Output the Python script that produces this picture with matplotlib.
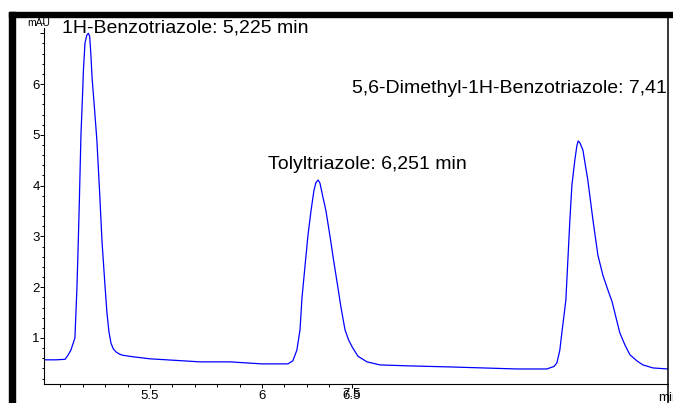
import matplotlib.pyplot as plt
from matplotlib.patches import Rectangle
from matplotlib.lines import Line2D
from matplotlib.ticker import MultipleLocator, FixedLocator

plt.rcParams['font.family'] = ['Liberation Sans', 'DejaVu Sans']

# trace (time in min, absorbance in mAU)
time_min = [5.027, 5.080, 5.121, 5.134, 5.147, 5.156, 5.165, 5.174, 5.179, 5.185,
            5.192, 5.199, 5.203, 5.210, 5.218, 5.225, 5.231, 5.236, 5.242, 5.251,
            5.263, 5.275, 5.286, 5.299, 5.308, 5.317, 5.326, 5.337, 5.350, 5.365,
            5.379, 5.424, 5.500, 5.612, 5.723, 5.857, 6.000, 6.116, 6.138, 6.156,
            6.170, 6.179, 6.192, 6.205, 6.219, 6.232, 6.241, 6.251, 6.259, 6.272,
            6.286, 6.304, 6.321, 6.339, 6.353, 6.371, 6.388, 6.406, 6.429, 6.469,
            6.527, 6.661, 6.839, 7.138, 7.272, 7.304, 7.317, 7.330, 7.339, 7.348,
            7.357, 7.366, 7.375, 7.384, 7.397, 7.406, 7.412, 7.420, 7.433, 7.446,
            7.455, 7.478, 7.500, 7.522, 7.545, 7.563, 7.581, 7.598, 7.621, 7.643,
            7.674, 7.701, 7.746, 7.813]
signal_mau = [0.57, 0.57, 0.58, 0.66, 0.76, 0.88, 1.00, 1.98, 2.73, 3.72,
              5.00, 5.78, 6.27, 6.81, 6.96, 7.00, 6.94, 6.60, 6.10, 5.60,
              4.90, 3.90, 2.90, 2.05, 1.50, 1.12, 0.90, 0.78, 0.72, 0.68,
              0.66, 0.63, 0.59, 0.56, 0.53, 0.53, 0.49, 0.49, 0.55, 0.76,
              1.16, 1.80, 2.40, 3.00, 3.50, 3.90, 4.06, 4.11, 4.05, 3.78,
              3.50, 3.00, 2.50, 2.00, 1.60, 1.16, 0.95, 0.80, 0.64, 0.53,
              0.47, 0.45, 0.43, 0.39, 0.39, 0.44, 0.51, 0.76, 1.10, 1.42,
              1.75, 2.54, 3.33, 4.01, 4.50, 4.78, 4.88, 4.84, 4.70, 4.35,
              4.11, 3.32, 2.63, 2.24, 1.94, 1.72, 1.40, 1.10, 0.86, 0.67,
              0.55, 0.47, 0.41, 0.39]

peak_names = ['1H-Benzotriazole', 'Tolyltriazole', '5,6-Dimethyl-1H-Benzotriazole']
peak_times = ['5,225', '6,251', '7,412']

x_ticks = [5.5, 6.0, 6.4]
x_tick_labels = ['5.5', '6', '6.5']
x_minor = [5.1, 5.2, 5.3, 5.4, 5.6, 5.7, 5.8, 5.9, 6.1, 6.2, 6.3]
y_ticks = [1, 2, 3, 4, 5, 6, 7]
y_tick_labels = ['1', '2', '3', '4', '5', '6', '']

W, H = 673, 403
fig = plt.figure(figsize=(W / 100, H / 100), dpi=100)
ax = fig.add_axes([44 / W, 1 - 384 / H, 624 / W, 367 / H])

ax.plot(time_min, signal_mau, color='#0000ff', lw=0.9)
ax.set_xlim(5.027, 7.813)
ax.set_ylim(0.094, 7.32)

for s in ['top', 'right']:
    ax.spines[s].set_visible(False)
ax.spines['left'].set_bounds(0.094, 7.1)
ax.spines['left'].set_linewidth(0.8)
ax.spines['bottom'].set_linewidth(0.8)

ax.xaxis.set_major_locator(FixedLocator(x_ticks))
ax.set_xticklabels(x_tick_labels)
ax.xaxis.set_minor_locator(FixedLocator(x_minor))
ax.set_yticks(y_ticks)
ax.set_yticklabels(y_tick_labels)
ax.yaxis.set_minor_locator(MultipleLocator(0.2))
ax.tick_params(which='major', length=3, width=0.7, labelsize=9.5, pad=1)
ax.tick_params(which='minor', length=2, width=0.7)
ax.tick_params(axis='y', which='minor', length=1.5)
ax.tick_params(axis='y', which='major', pad=0)

# second label that lands on the same tick
ax.text(6.4, -0.012, '7.5', transform=ax.get_xaxis_transform(), ha='center', va='top',
        fontsize=9.5)

# peak annotations
ax.text(5.107, 7.10, f'{peak_names[0]}: {peak_times[0]} min', fontsize=14, va='center')
ax.text(6.027, 4.41, f'{peak_names[1]}: {peak_times[1]} min', fontsize=14, va='center')
ax.text(6.402, 5.92, f'{peak_names[2]}: {peak_times[2]} min', fontsize=14, va='center',
        clip_on=True)

fig.text(27 / W, 1 - 23 / H, 'mAU', fontsize=7.5, va='center')
fig.text(658 / W, 1 - 398 / H, 'min', fontsize=9.5, va='center')

# frame: heavy bars at top and left, thin rule at right
fig.patches.append(Rectangle((9 / W, 1 - 17 / H), 664 / W, 5 / H, color='black',
                             transform=fig.transFigure))
fig.patches.append(Rectangle((9 / W, 0), 6 / W, (H - 12) / H, color='black',
                             transform=fig.transFigure))
fig.lines.append(Line2D([668 / W, 668 / W], [0, 1 - 17 / H], color='black', lw=1.1,
                        transform=fig.transFigure))

fig.savefig('out.png', dpi=100)
